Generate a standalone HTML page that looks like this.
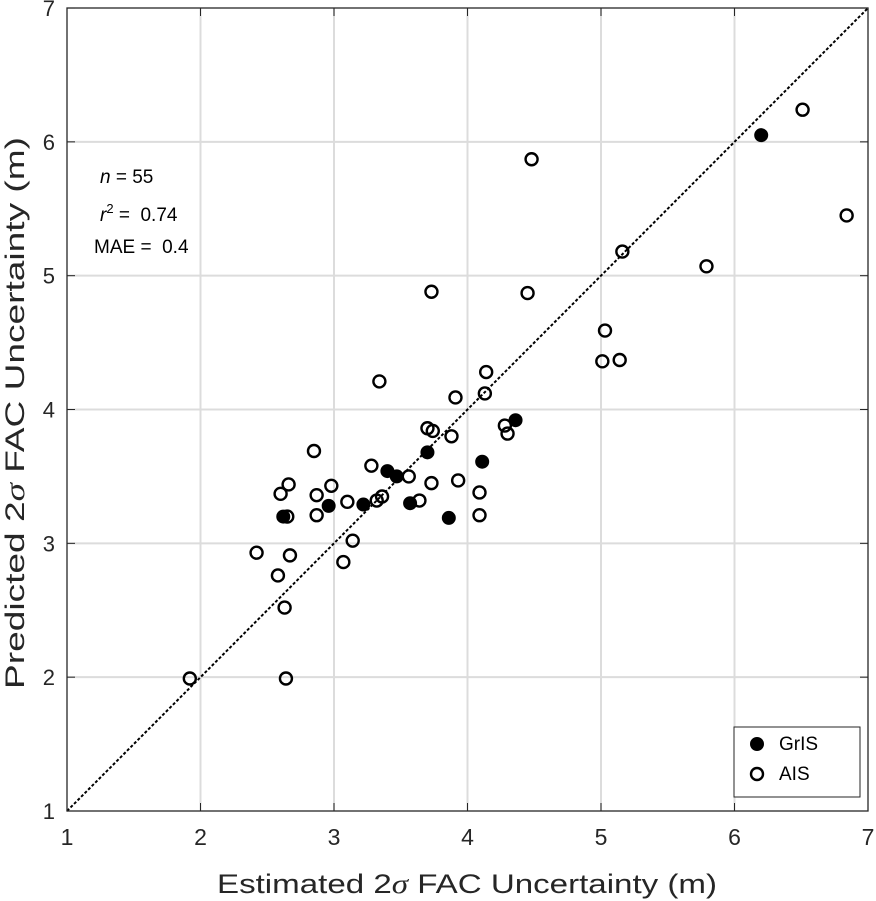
<!DOCTYPE html>
<html><head><meta charset="utf-8"><style>
html,body{margin:0;padding:0;background:#fff;}
svg{display:block;font-family:"Liberation Sans",Arial,sans-serif;}
</style></head><body>
<svg id="chart" width="876" height="901" viewBox="0 0 876 901">
<g id="grid"></g>
<g id="marks"></g>
<rect x="67" y="8" width="801" height="803" fill="none" stroke="#262626" stroke-width="1.3"/>
<g id="ticks"></g>
<text x="467" y="893" text-anchor="middle" font-size="27" fill="#262626" textLength="500" lengthAdjust="spacingAndGlyphs">Estimated 2<tspan font-family="Liberation Serif" font-style="italic">σ</tspan> FAC Uncertainty (m)</text>
<text transform="translate(24,413) rotate(-90)" text-anchor="middle" font-size="27" fill="#262626" textLength="552" lengthAdjust="spacingAndGlyphs">Predicted 2<tspan font-family="Liberation Serif" font-style="italic">σ</tspan> FAC Uncertainty (m)</text>
<g font-size="19" fill="#000">
<text x="100" y="183"><tspan font-style="italic">n</tspan> = 55</text>
<text x="100" y="221"><tspan font-style="italic">r</tspan><tspan font-size="13" dy="-8">2</tspan><tspan dy="8"> =&#160; 0.74</tspan></text>
<text x="94" y="253">MAE =&#160; 0.4</text>
</g>
<g>
<rect x="734" y="727" width="126" height="70" fill="#fff" stroke="#262626" stroke-width="1"/>
<circle cx="757" cy="744" r="6" fill="#000" stroke="#000" stroke-width="2"/>
<text x="779" y="750" font-size="19">GrIS</text>
<circle cx="757" cy="774" r="6" fill="#fff" stroke="#000" stroke-width="2.4"/>
<text x="779" y="780" font-size="19">AIS</text>
</g>
</svg>
<script>
const ticks=[1,2,3,4,5,6,7];
const grisX=[6.20,4.36,4.11,3.70,3.40,3.47,3.22,2.96,3.57,3.86,2.62];
const grisY=[6.05,3.92,3.61,3.68,3.54,3.50,3.29,3.28,3.30,3.19,3.20];
const aisX=[6.51,6.84,4.48,5.16,5.79,3.73,4.45,5.03,5.01,5.14,3.34,4.14,4.13,3.91,2.85,3.70,3.74,3.88,4.28,4.30,3.28,3.56,3.73,3.93,4.09,4.09,2.98,2.87,2.87,3.10,3.36,3.32,3.64,2.66,2.60,2.65,3.14,3.07,2.42,2.67,2.58,2.63,1.92,2.64];
const aisY=[6.24,5.45,5.87,5.18,5.07,4.88,4.87,4.59,4.36,4.37,4.21,4.28,4.12,4.09,3.69,3.86,3.84,3.80,3.88,3.82,3.58,3.50,3.45,3.47,3.38,3.21,3.43,3.36,3.21,3.31,3.35,3.32,3.32,3.44,3.37,3.20,3.02,2.86,2.93,2.91,2.76,2.52,1.99,1.99];
const NS='http://www.w3.org/2000/svg';
const xs=v=>67+(v-1)*133.5, ys=v=>811-(v-1)*133.83;
function mk(t,a,p){const e=document.createElementNS(NS,t);for(const k in a)e.setAttribute(k,a[k]);p.appendChild(e);return e;}
const grid=document.getElementById('grid'),tk=document.getElementById('ticks'),marks=document.getElementById('marks');
ticks.forEach(t=>{
 if(t>1&&t<7){
  const g1=mk('line',{x1:xs(t),x2:xs(t),y1:8,y2:811,stroke:'#dcdcdc','stroke-width':2},grid);
  
  
  const g2=mk('line',{x1:67,x2:868,y1:ys(t),y2:ys(t),stroke:'#dcdcdc','stroke-width':2},grid);
  
  
 }
 mk('line',{x1:xs(t),x2:xs(t),y1:811,y2:803,stroke:'#262626'},tk);
 mk('line',{x1:xs(t),x2:xs(t),y1:8,y2:16,stroke:'#262626'},tk);
 mk('line',{x1:67,x2:75,y1:ys(t),y2:ys(t),stroke:'#262626'},tk);
 mk('line',{x1:868,x2:860,y1:ys(t),y2:ys(t),stroke:'#262626'},tk);
 const xl=mk('text',{x:xs(t),y:845,'text-anchor':'middle','font-size':23,fill:'#262626'},tk);xl.textContent=t;
 
 
 const yl=mk('text',{x:55,y:ys(t)+8,'text-anchor':'end','font-size':22,fill:'#262626'},tk);yl.textContent=t;
 
 
});
const one=mk('line',{x1:xs(1),y1:ys(1),x2:xs(7),y2:ys(7),stroke:'#000','stroke-width':2,'stroke-dasharray':'3,2'},marks);


aisX.forEach((x,i)=>{
 const c=mk('circle',{cx:xs(x),cy:ys(aisY[i]),r:6,fill:'none',stroke:'#000','stroke-width':2.4},marks);
 
 
});
grisX.forEach((x,i)=>{
 const c=mk('circle',{cx:xs(x),cy:ys(grisY[i]),r:6.5,fill:'#000',stroke:'#000','stroke-width':1},marks);
 
 
});
</script>
</body></html>
